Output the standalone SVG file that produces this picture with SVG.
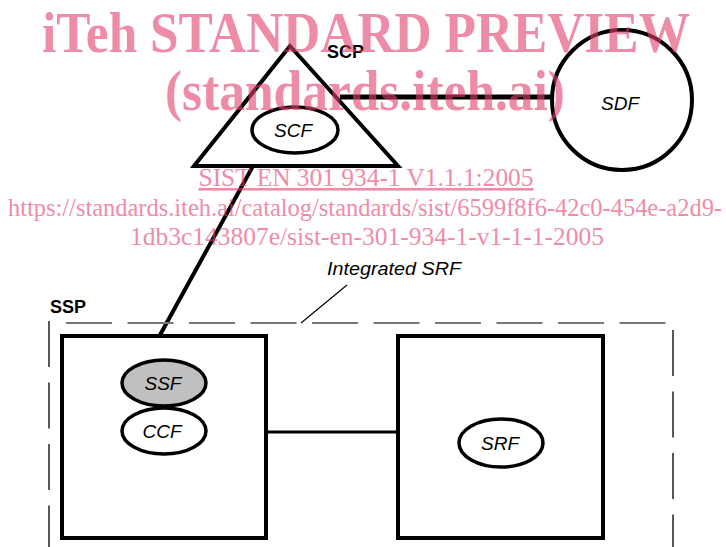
<svg xmlns="http://www.w3.org/2000/svg" width="726" height="547" viewBox="0 0 726 547">
<style>
.shape{fill:#fff;stroke:#000;stroke-width:4}
.ell{fill:#fff;stroke:#000;stroke-width:3.5}
.lbl{font-family:"Liberation Sans",Arial,sans-serif;font-style:italic;font-size:19px;text-anchor:middle;fill:#000}
.bold{font-family:"Liberation Sans",Arial,sans-serif;font-weight:bold;font-size:18px;fill:#000}
.wm{font-family:"Liberation Serif","Times New Roman",serif;fill:#e4406f;opacity:0.6;text-anchor:middle}
</style>
<rect width="726" height="547" fill="#fff"/>
<g id="connectors" fill="none" stroke="#000">
<line x1="340" y1="97" x2="553" y2="97" stroke-width="5"/>
<line x1="253" y1="166" x2="160" y2="335" stroke-width="4"/>
<line x1="266" y1="432" x2="398" y2="432" stroke-width="3"/>
<line x1="347" y1="285" x2="301" y2="323" stroke-width="1.2"/>
</g>
<g id="ssp">
<line x1="66" y1="323" x2="673" y2="323" stroke="#777" stroke-width="2" stroke-dasharray="46 15.5"/>
<line x1="49" y1="321" x2="49" y2="547" stroke="#222" stroke-width="1.5" stroke-dasharray="46 15.5"/>
<line x1="673" y1="330" x2="673" y2="547" stroke="#222" stroke-width="1.5" stroke-dasharray="46 15.5"/>
<text class="bold" x="50" y="313">SSP</text>
</g>
<g id="integrated-srf-label">
<text class="lbl" x="394" y="275" textLength="134" lengthAdjust="spacingAndGlyphs">Integrated SRF</text>
</g>
<g id="scp">
<polygon class="shape" points="290,46 194,166 398,166" stroke-linejoin="miter"/>
<text class="bold" x="327" y="58">SCP</text>
</g>
<g id="scf">
<ellipse class="ell" cx="295" cy="130" rx="43" ry="23"/>
<text class="lbl" x="293" y="137">SCF</text>
</g>
<g id="sdf">
<circle class="shape" cx="622" cy="100" r="70"/>
<text class="lbl" x="620" y="110">SDF</text>
</g>
<g id="box-left">
<rect class="shape" x="62" y="336" width="204" height="202"/>
</g>
<g id="ssf">
<ellipse cx="164" cy="383" rx="42" ry="23" fill="#c0c0c0" stroke="#000" stroke-width="3.5"/>
<text class="lbl" x="163" y="390">SSF</text>
</g>
<g id="ccf">
<ellipse class="ell" cx="164" cy="431" rx="42" ry="23"/>
<text class="lbl" x="162" y="438">CCF</text>
</g>
<g id="box-right">
<rect class="shape" x="398" y="336" width="205" height="202"/>
</g>
<g id="srf">
<ellipse class="ell" cx="501" cy="443" rx="42" ry="24"/>
<text class="lbl" x="500" y="450">SRF</text>
</g>
<g id="watermark">
<text class="wm" x="366" y="52" font-size="56" font-weight="bold" textLength="648" lengthAdjust="spacingAndGlyphs">iTeh STANDARD PREVIEW</text>
<text class="wm" x="365" y="110" font-size="56" font-weight="bold" textLength="400" lengthAdjust="spacingAndGlyphs">(standards.iteh.ai)</text>
<text class="wm" x="366" y="186" font-size="26" text-decoration="underline" textLength="335" lengthAdjust="spacingAndGlyphs">SIST EN 301 934-1 V1.1.1:2005</text>
<text class="wm" x="365" y="216" font-size="26" textLength="714" lengthAdjust="spacingAndGlyphs">https://standards.iteh.ai/catalog/standards/sist/6599f8f6-42c0-454e-a2d9-</text>
<text class="wm" x="367" y="245" font-size="26" textLength="474" lengthAdjust="spacingAndGlyphs">1db3c143807e/sist-en-301-934-1-v1-1-1-2005</text>
</g>
</svg>
